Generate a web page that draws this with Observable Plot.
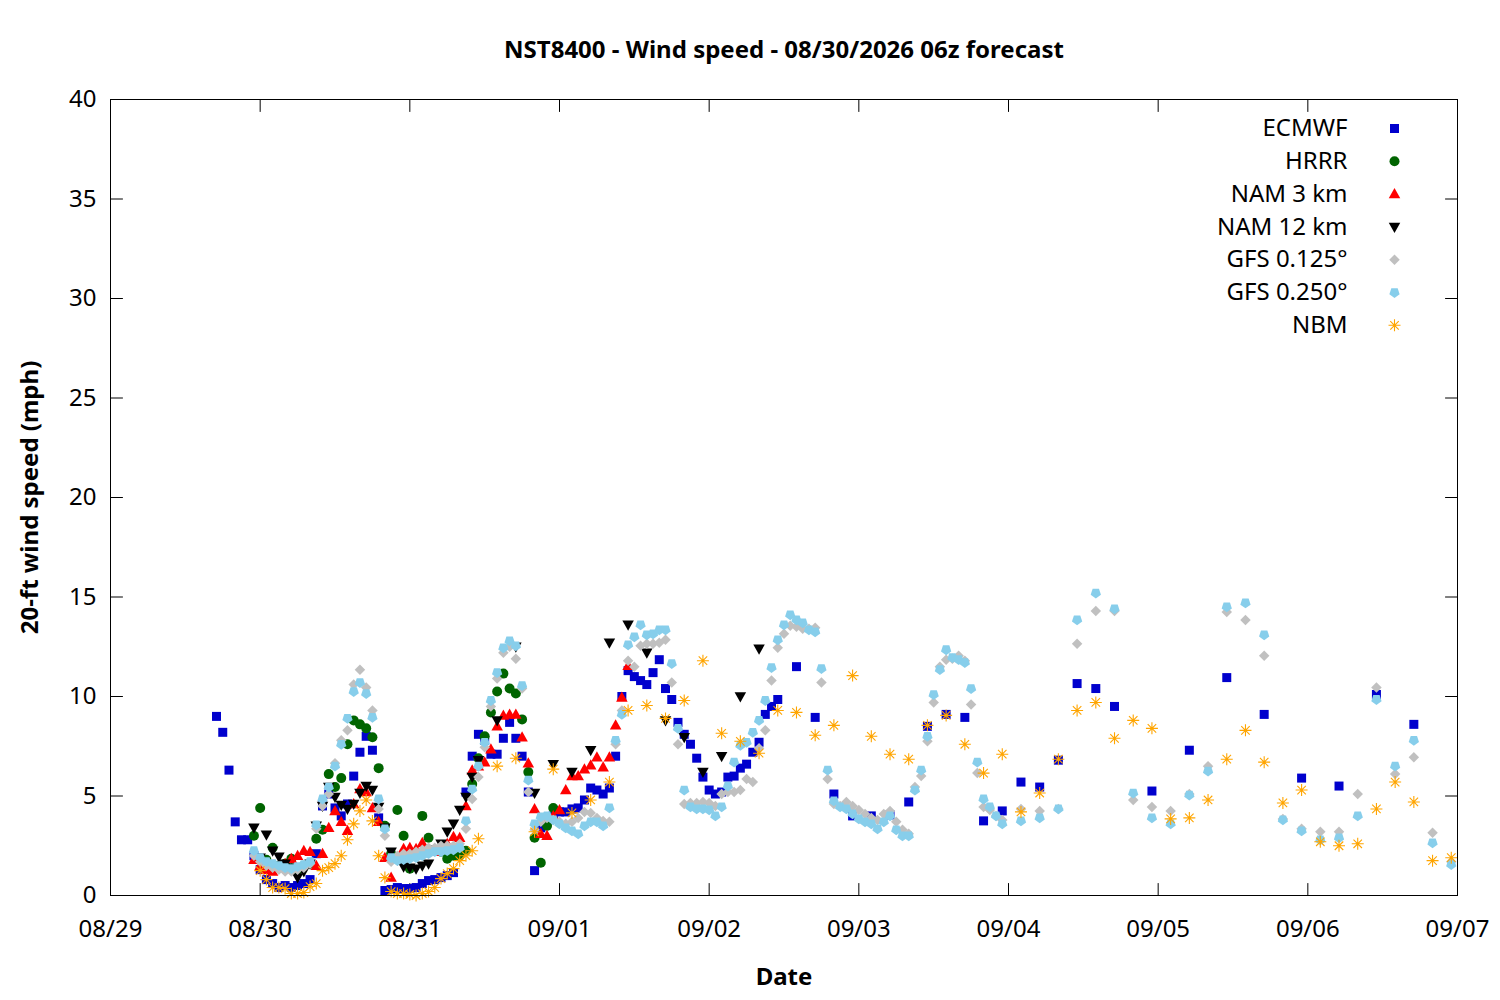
<!DOCTYPE html>
<html>
<head>
<meta charset="utf-8">
<script src="https://cdn.jsdelivr.net/npm/d3@7"></script>
<script src="https://cdn.jsdelivr.net/npm/@observablehq/plot@0.6"></script>
<style>
  body { margin: 0; background: #ffffff; }
  #chart svg { display: block; }
</style>
</head>
<body>
<div id="chart"></div>
<script>
// ---------- text ----------
const titleText = "NST8400 - Wind speed - 08/30/2026 06z forecast";
const xLabelText = "Date";
const yLabelText = "20-ft wind speed (mph)";

// ---------- axes ----------
const xTickDates = ["2026-08-29","2026-08-30","2026-08-31","2026-09-01","2026-09-02","2026-09-03","2026-09-04","2026-09-05","2026-09-06","2026-09-07"];
const yTickValues = [0, 5, 10, 15, 20, 25, 30, 35, 40];
const startDate = "2026-08-29T00:00:00Z"; // hours below are counted from this instant

// ---------- series (forecast hour offsets and wind speeds, mph) ----------
const ecmwfHours = [...d3.range(17, 108), ...d3.range(110, 162, 3), 167, 173, 179, 185, 191, 197, 203, 209];
const ecmwfValues = [
  9.0,8.2,6.3,3.7,2.8,2.8,2.0,1.3,0.8,0.6,
  0.4,0.5,0.4,0.5,0.6,0.8,2.1,4.5,5.1,4.4,
  4.0,4.6,6.0,7.2,8.0,7.3,3.9,0.25,0.3,0.4,
  0.35,0.35,0.4,0.6,0.75,0.8,0.9,1.0,1.15,2.2,
  5.2,7.0,8.1,7.8,7.1,7.1,7.9,8.7,7.9,7.0,
  5.2,1.25,3.4,3.8,4.0,4.2,4.2,4.35,4.4,4.8,
  5.4,5.3,5.1,5.4,7.0,10.0,11.3,11.0,10.8,10.6,
  11.2,11.85,10.4,9.85,8.7,8.1,7.6,6.9,5.95,5.3,
  5.1,5.2,5.95,6.0,6.4,6.6,7.2,7.7,9.1,9.5,
  9.85,
  11.5,8.95,5.1,4.0,4.0,4.05,4.7,8.5,9.1,8.95,3.75,4.25,5.7,5.45,6.8,10.65,10.4,9.5,
  5.25,7.3,10.95,9.1,5.9,5.5,10.1,8.6
];

const hrrrHours = d3.range(23, 72);
const hrrrValues = [
  3.0,4.4,1.8,2.4,1.5,1.6,1.85,1.3,1.5,1.6,
  2.85,3.3,6.1,5.45,5.9,7.6,8.8,8.6,8.4,7.95,
  6.4,3.5,2.1,4.3,3.0,1.35,2.0,4.0,2.9,2.3,
  2.2,1.85,2.0,2.0,2.25,5.6,6.9,8.0,9.2,10.25,
  11.15,10.4,10.15,8.85,6.2,2.9,1.65,3.5,4.4
];

const nam3Hours = d3.range(23, 84);
const nam3Values = [
  1.8,1.5,1.3,1.2,1.5,1.6,1.85,2.0,2.25,2.2,
  1.5,2.1,3.4,4.25,3.7,3.25,4.6,5.35,5.2,4.4,
  3.7,1.9,0.9,1.9,2.35,2.4,2.35,2.65,2.3,2.2,
  2.4,2.6,2.95,2.9,4.5,6.3,6.5,6.7,7.35,8.5,
  9.05,9.1,9.1,7.95,6.65,4.35,3.1,3.0,4.0,4.3,
  5.3,6.0,6.0,6.35,6.55,6.95,6.45,6.95,8.55,9.95,
  11.55
];

const nam12Hours = [...d3.range(23, 60), ...d3.range(62, 105, 3)];
const nam12Values = [
  3.4,1.9,3.05,2.25,1.95,1.6,1.4,0.9,1.2,1.6,
  3.5,4.5,5.45,4.95,4.55,4.35,4.6,5.15,5.5,5.3,
  4.45,3.4,2.2,1.8,1.45,1.4,1.35,1.5,1.6,2.3,
  2.6,3.2,3.6,4.3,4.95,5.95,6.8,
  8.8,12.5,5.15,6.6,6.2,7.3,12.7,13.6,12.2,8.8,7.95,6.2,7.0,10.0,12.4
];

const gfsHours = [...d3.range(23, 144), ...d3.range(146, 216, 3)];
const gfs125Values = [
  2.0,1.7,1.5,1.4,1.3,1.2,1.2,1.3,1.4,1.6,3.35,4.5,5.1,6.65,7.8,8.3,10.6,11.35,10.45,9.3,4.35,3.0,1.7,
  2.0,2.1,2.1,2.2,2.3,2.4,2.4,2.5,2.5,2.5,2.6,
  3.35,4.85,5.95,7.45,9.5,10.9,12.2,12.5,11.9,10.4,5.2,
  3.3,3.7,3.9,3.8,3.7,3.6,3.7,3.9,4.2,4.15,3.9,3.75,3.7,
  7.6,9.3,11.8,11.5,12.55,12.65,12.65,12.7,12.85,10.7,7.6,4.6,4.65,4.65,4.7,4.65,4.5,5.1,5.2,5.2,5.3,5.85,5.7,
  7.4,8.3,10.8,12.45,13.15,13.55,13.5,13.4,13.4,13.45,10.7,5.85,4.6,4.5,4.7,4.5,4.3,4.1,3.9,3.8,4.1,4.25,3.7,3.3,3.1,
  5.45,6.0,7.75,9.7,11.5,11.85,11.9,12.05,11.8,9.6,6.15,4.45,4.3,4.0,3.8,
  4.35,4.25,4.35,12.65,14.3,14.3,4.8,4.45,4.25,5.1,6.5,14.25,13.85,12.05,3.85,3.35,3.2,3.2,5.1,10.45,6.1,6.95,3.15,1.7
];
const gfs250Values = [
  2.25,1.9,1.7,1.6,1.5,1.4,1.35,1.45,1.55,1.7,3.55,4.85,5.45,6.5,7.6,8.9,10.25,10.7,10.15,8.95,4.85,3.35,1.9,
  1.75,1.8,1.85,1.9,2.0,2.1,2.2,2.2,2.25,2.3,2.4,
  3.75,5.35,6.5,7.7,9.8,11.2,12.45,12.8,12.55,10.55,5.8,
  3.6,3.95,4.0,3.8,3.6,3.4,3.25,3.1,3.5,3.7,3.7,3.5,4.4,
  7.8,9.1,12.6,13.0,13.6,13.1,13.15,13.35,13.35,11.65,8.4,5.3,4.45,4.35,4.35,4.3,4.0,4.45,5.5,6.7,7.55,7.7,8.2,
  8.8,9.8,11.45,12.85,13.6,14.1,13.85,13.7,13.35,13.25,11.4,6.3,4.75,4.45,4.35,4.1,3.85,3.7,3.6,3.35,3.7,4.0,3.3,3.0,3.0,
  5.3,6.3,8.0,10.1,11.35,12.35,11.95,11.85,11.7,10.4,6.7,4.85,4.45,4.0,3.6,
  3.75,3.9,4.35,13.85,15.2,14.4,5.15,3.9,3.6,5.05,6.25,14.5,14.7,13.1,3.8,3.25,2.8,2.9,4.0,9.85,6.5,7.8,2.65,1.55
];

const nbmHours = [...d3.range(24, 60), ...d3.range(62, 216, 3)];
const nbmValues = [
  1.25,0.8,0.4,0.4,0.35,0.1,0.1,0.15,0.45,0.6,
  1.25,1.4,1.6,2.0,2.8,3.6,4.25,4.8,3.75,2.0,
  0.9,0.2,0.1,0.1,0.05,0.0,0.1,0.2,0.4,0.85,
  1.1,1.35,1.75,2.0,2.25,2.85,
  6.5,6.9,3.2,6.35,4.15,4.8,5.7,9.3,9.55,8.9,9.8,11.8,8.15,7.75,7.15,9.3,9.2,8.05,8.55,11.05,
  8.0,7.1,6.85,8.55,9.05,7.6,6.15,7.1,4.2,5.15,6.85,9.3,9.7,7.9,8.8,8.4,3.85,3.9,4.8,6.85,
  8.3,6.7,4.65,5.3,2.7,2.5,2.6,4.35,5.7,4.7,1.75,1.9
];

const seriesNames = ["ECMWF", "HRRR", "NAM 3 km", "NAM 12 km", "GFS 0.125°", "GFS 0.250°", "NBM"];
const seriesColors = ["#0000cd", "#006400", "#ff0000", "#000000", "#c0c0c0", "#87ceeb", "#ffa500"];

// ---------- symbols (gnuplot-like point types) ----------
const rad = s => Math.sqrt(s / Math.PI);
const symSquare = {draw(c, s) { const h = rad(s) * 0.9; c.moveTo(-h, -h); c.lineTo(h, -h); c.lineTo(h, h); c.lineTo(-h, h); c.closePath(); }};
const symCircle = {draw(c, s) { const r = rad(s); c.moveTo(r, 0); c.arc(0, 0, r, 0, 2 * Math.PI); }};
const symTriUp = {draw(c, s) { const r = rad(s); c.moveTo(0, -1.2 * r); c.lineTo(1.15 * r, 0.85 * r); c.lineTo(-1.15 * r, 0.85 * r); c.closePath(); }};
const symTriDown = {draw(c, s) { const r = rad(s); c.moveTo(0, 1.2 * r); c.lineTo(1.15 * r, -0.85 * r); c.lineTo(-1.15 * r, -0.85 * r); c.closePath(); }};
const symDiamond = {draw(c, s) { const r = rad(s) * 1.05; c.moveTo(0, -r); c.lineTo(r, 0); c.lineTo(0, r); c.lineTo(-r, 0); c.closePath(); }};
const symPentagon = {draw(c, s) {
  const R = rad(s) * 1.08;
  for (let k = 0; k < 5; k++) {
    const a = Math.PI / 2 + k * 2 * Math.PI / 5;
    const px = R * Math.cos(a), py = R * Math.sin(a);
    if (k === 0) c.moveTo(px, py); else c.lineTo(px, py);
  }
  c.closePath();
}};
const symAsterisk = {draw(c, s) {
  const r = rad(s) * 1.2, d = r * Math.SQRT1_2;
  c.moveTo(-r, 0); c.lineTo(r, 0);
  c.moveTo(0, -r); c.lineTo(0, r);
  c.moveTo(-d, -d); c.lineTo(d, d);
  c.moveTo(-d, d); c.lineTo(d, -d);
}};
const seriesSymbols = [symSquare, symCircle, symTriUp, symTriDown, symDiamond, symPentagon, symAsterisk];
const tickShape = {draw(c, l) { c.moveTo(0, 0); c.lineTo(0, -l); }};

// ---------- build tables ----------
const base = new Date(startDate).getTime();
const toTable = (hours, values) => hours.map((h, i) => ({t: new Date(base + h * 3600000), v: values[i]}));
const tables = [
  toTable(ecmwfHours, ecmwfValues),
  toTable(hrrrHours, hrrrValues),
  toTable(nam3Hours, nam3Values),
  toTable(nam12Hours, nam12Values),
  toTable(gfsHours, gfs125Values),
  toTable(gfsHours, gfs250Values),
  toTable(nbmHours, nbmValues)
];
const xTicks = xTickDates.map(d => new Date(d + "T00:00:00Z"));

const FONT = 24;
const marks = [];

// inward ticks on all four sides
marks.push(Plot.vectorY(xTicks, {x: d => d, y: null, frameAnchor: "bottom", length: 12, anchor: "start", rotate: 0, shape: tickShape, stroke: "black", strokeWidth: 1}));
marks.push(Plot.vectorY(xTicks, {x: d => d, y: null, frameAnchor: "top", length: 12, anchor: "start", rotate: 180, shape: tickShape, stroke: "black", strokeWidth: 1}));
marks.push(Plot.vectorX(yTickValues, {y: d => d, x: null, frameAnchor: "left", length: 12, anchor: "start", rotate: 90, shape: tickShape, stroke: "black", strokeWidth: 1}));
marks.push(Plot.vectorX(yTickValues, {y: d => d, x: null, frameAnchor: "right", length: 12, anchor: "start", rotate: -90, shape: tickShape, stroke: "black", strokeWidth: 1}));

marks.push(Plot.axisX({ticks: xTicks, tickSize: 0, tickPadding: 24, tickFormat: d3.utcFormat("%m/%d"), label: null, fontSize: FONT}));
marks.push(Plot.axisY({ticks: yTickValues, tickSize: 0, tickPadding: 14, label: null, fontSize: FONT}));

// data points, in gnuplot's drawing order
tables.forEach((tbl, i) => {
  const isStroke = i === 6;
  marks.push(Plot.dot(tbl, {
    x: "t", y: "v", r: 5,
    symbol: seriesSymbols[i],
    fill: isStroke ? "none" : seriesColors[i],
    stroke: isStroke ? seriesColors[i] : "none",
    strokeWidth: 1.1
  }));
});

marks.push(Plot.frame({stroke: "black", strokeWidth: 1}));

// legend (top-right, inside the frame)
seriesNames.forEach((name, i) => {
  const dy = 29 + i * 32.8;
  marks.push(Plot.text([name], {frameAnchor: "top-right", dx: -110, dy, textAnchor: "end", lineAnchor: "middle", fontSize: FONT, fill: "black"}));
  marks.push(Plot.dot([name], {frameAnchor: "top-right", dx: -63, dy, r: 5, symbol: seriesSymbols[i],
    fill: i === 6 ? "none" : seriesColors[i], stroke: i === 6 ? seriesColors[i] : "none", strokeWidth: 1.1}));
});

// title and axis labels
marks.push(Plot.text([titleText], {frameAnchor: "top", dy: -49, lineAnchor: "middle", textAnchor: "middle", fontSize: FONT, fontWeight: "bold", fill: "black"}));
marks.push(Plot.text([xLabelText], {frameAnchor: "bottom", dy: 82, lineAnchor: "middle", textAnchor: "middle", fontSize: FONT, fontWeight: "bold", fill: "black"}));
marks.push(Plot.text([yLabelText], {frameAnchor: "left", dx: -80, rotate: -90, lineAnchor: "middle", textAnchor: "middle", fontSize: FONT, fontWeight: "bold", fill: "black"}));

const chart = Plot.plot({
  width: 1500,
  height: 1000,
  marginLeft: 110,
  marginRight: 43,
  marginTop: 99,
  marginBottom: 105,
  style: {fontFamily: "'Noto Sans', 'Open Sans', sans-serif", fontSize: FONT + "px", background: "#ffffff", color: "black"},
  x: {type: "utc", domain: [xTicks[0], xTicks[xTicks.length - 1]]},
  y: {domain: [0, 40]},
  marks
});
document.getElementById("chart").appendChild(chart);
</script>
</body>
</html>
